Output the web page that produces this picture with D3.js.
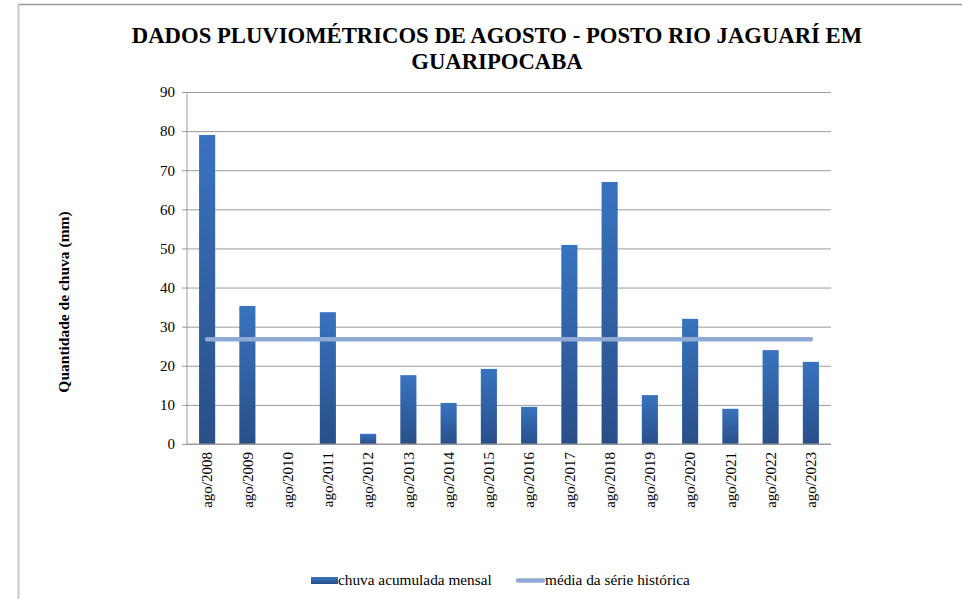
<!DOCTYPE html>
<meta charset="utf-8">
<html>
<head>
  <script src="https://d3js.org/d3.v7.min.js"></script>
  <style>
    body { margin: 0; background: #fff; }
    svg text { font-family: "Liberation Serif", "Times New Roman", Times, "DejaVu Serif", serif !important; }
  </style>
</head>
<body>
  <div id="chart"></div>
  <script>
    // data
    var categories = ["ago/2008", "ago/2009", "ago/2010", "ago/2011", "ago/2012", "ago/2013", "ago/2014", "ago/2015",
      "ago/2016", "ago/2017", "ago/2018", "ago/2019", "ago/2020", "ago/2021", "ago/2022", "ago/2023"];
    var chuva = [79, 35.3, 0, 33.7, 2.6, 17.6, 10.5, 19.2, 9.5, 50.9, 67, 12.5, 32, 9, 24, 21];
    var media = 26.8;
    var yTicks = [0, 10, 20, 30, 40, 50, 60, 70, 80, 90];
    var titleLines = ["DADOS PLUVIOMÉTRICOS DE AGOSTO - POSTO RIO JAGUARÍ EM", "GUARIPOCABA"];
    var legendLabels = ["chuva acumulada mensal", "média da série histórica"];

    var W = 962, H = 599;
    var margin = { top: 92, right: 131, bottom: 155, left: 187 },
      width = W - margin.left - margin.right,
      height = H - margin.top - margin.bottom;

    var svg = d3.select("#chart").append("svg")
      .attr("width", W)
      .attr("height", H);

    // chart frame (only top and left edges show)
    svg.append("line").attr("x1", 18).attr("x2", W).attr("y1", 4.5).attr("y2", 4.5)
      .attr("stroke", "#9a9a9a").attr("stroke-width", 1.5);
    svg.append("line").attr("x1", 18.5).attr("x2", 18.5).attr("y1", 4).attr("y2", H)
      .attr("stroke", "#c8c8c8").attr("stroke-width", 2);

    // gradient for bars
    var grad = svg.append("defs").append("linearGradient")
      .attr("id", "barGrad").attr("x1", 0).attr("y1", 0).attr("x2", 0).attr("y2", 1);
    grad.append("stop").attr("offset", "0%").attr("stop-color", "#3873bf");
    grad.append("stop").attr("offset", "100%").attr("stop-color", "#294f88");

    // title
    svg.append("g").selectAll("text")
      .data(titleLines)
      .enter().append("text")
      .attr("x", 497)
      .attr("y", function (d, i) { return 43 + i * 26; })
      .attr("text-anchor", "middle")
      .attr("font-size", "22.7px")
      .attr("font-weight", "bold")
      .attr("fill", "#000")
      .text(function (d) { return d; });

    var g = svg.append("g")
      .attr("transform", "translate(" + margin.left + "," + margin.top + ")");

    var x = d3.scaleBand()
      .domain(categories)
      .range([0, width])
      .paddingInner(0.6)
      .paddingOuter(0.3);

    var y = d3.scaleLinear()
      .domain([0, 90])
      .range([height, 0]);

    // gridlines + y axis
    var yAxis = g.append("g")
      .call(d3.axisLeft(y).tickValues(yTicks).tickSize(-width).tickPadding(12).tickFormat(d3.format("d")));
    yAxis.select(".domain").remove();
    yAxis.selectAll(".tick line").attr("stroke", "#9a9a9a").attr("x1", -5);
    yAxis.selectAll(".tick text")
      .attr("font-size", "15px").attr("fill", "#000");

    g.append("line")
      .attr("x1", 0).attr("x2", 0).attr("y1", 0).attr("y2", height)
      .attr("stroke", "#9a9a9a");

    // bars
    g.selectAll(".bar")
      .data(chuva)
      .enter().append("rect")
      .attr("class", "bar")
      .attr("x", function (d, i) { return x(categories[i]); })
      .attr("y", function (d) { return y(d); })
      .attr("width", x.bandwidth())
      .attr("height", function (d) { return height - y(d); })
      .attr("fill", "url(#barGrad)");

    // baseline
    g.append("line")
      .attr("x1", 0).attr("x2", width).attr("y1", height).attr("y2", height)
      .attr("stroke", "#9a9a9a");

    // x labels
    var xAxis = g.append("g")
      .attr("transform", "translate(0," + height + ")")
      .call(d3.axisBottom(x).tickSize(0));
    xAxis.select(".domain").remove();
    xAxis.selectAll(".tick text")
      .attr("font-size", "15px").attr("fill", "#000")
      .attr("text-anchor", "end")
      .attr("transform", "rotate(-90)")
      .attr("x", -8).attr("y", 0).attr("dy", "0.35em");

    // mean line
    g.append("line")
      .attr("x1", x(categories[0]) + x.bandwidth() / 2)
      .attr("x2", x(categories[categories.length - 1]) + x.bandwidth() / 2)
      .attr("y1", y(media)).attr("y2", y(media))
      .attr("stroke", "#8eaad6").attr("stroke-width", 4.5)
      .attr("stroke-linecap", "round");

    // y axis title
    svg.append("text")
      .attr("transform", "translate(69,302) rotate(-90)")
      .attr("text-anchor", "middle")
      .attr("font-size", "15.5px")
      .attr("font-weight", "bold")
      .text("Quantidade de chuva (mm)");

    // legend
    var leg = svg.append("g");
    leg.append("rect").attr("x", 311).attr("y", 577).attr("width", 27).attr("height", 7).attr("fill", "url(#barGrad)");
    leg.append("text").attr("x", 338).attr("y", 585).attr("font-size", "15.3px").text(legendLabels[0]);
    leg.append("line").attr("x1", 518).attr("x2", 543).attr("y1", 580.5).attr("y2", 580.5)
      .attr("stroke", "#8eaad6").attr("stroke-width", 4.5).attr("stroke-linecap", "round");
    leg.append("text").attr("x", 545).attr("y", 585).attr("font-size", "15.3px").text(legendLabels[1]);
  </script>
</body>
</html>
